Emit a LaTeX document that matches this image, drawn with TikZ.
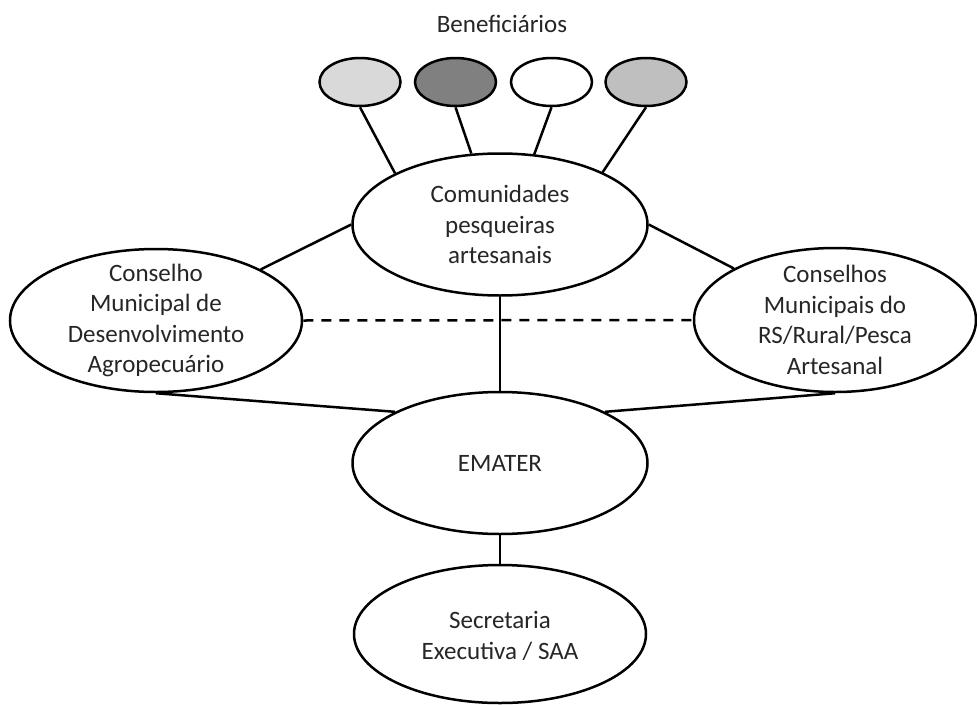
\documentclass[tikz,border=0pt]{standalone}
\usepackage{fontspec}
\setmainfont{Carlito}
\usetikzlibrary{shapes.geometric}
\definecolor{benA}{gray}{0.85}
\definecolor{benB}{gray}{0.5}
\definecolor{benD}{gray}{0.75}
\tikzset{
  ell/.style={draw,ellipse,line width=2.5pt,fill=white,inner sep=0pt},
  big/.style={ell,minimum width=295,minimum height=142},
  txt/.style={font=\fontsize{25}{30.5}\selectfont,align=center,text=black!85},
  conn/.style={line width=2.5pt},
}
\begin{document}
\begin{tikzpicture}[x=1pt,y=-1pt]
\useasboundingbox (0,0) rectangle (977,704);
\node[txt,anchor=base](ben) at (502,32){Beneficiários};
\foreach \n/\x/\c in {1/360/benA,2/455.5/benB,3/551.5/white,4/646/benD}
{
    \node[ell,fill=\c,minimum width=81,minimum height=48](ben\n) at (\x,82){};
}
\node[big,label={[txt]center:{Comunidades\\pesqueiras\\artesanais}}](com) at (500,224.5){};
\node[big,minimum width=292,minimum height=143,
      label={[txt]center:{Conselho\\Municipal de\\Desenvolvimento\\Agropecuário}}](cmda) at (156,320.5){};
\node[big,minimum width=282,minimum height=144,
      label={[txt]center:{Conselhos\\Municipais do\\RS/Rural/Pesca\\Artesanal}}](cmrs) at (835,320){};
\node[big,label={[txt]center:EMATER}](emater) at (500,463){};
\node[big,minimum width=292,minimum height=138,
      label={[txt,yshift=-2pt]center:{Secretaria\\Executiva / SAA}}](saa) at (500,634){};
\foreach \n/\a in {1/154,2/112,3/64,4/27}
{
    \draw[conn](ben\n.south)--(com.\a);
}
\draw[conn](cmda.26)--(com.west);
\draw[conn](cmrs.153)--(com.east);
\draw[conn,dash pattern=on 10pt off 8pt](cmda.east)--(cmrs.west);
\draw[conn](com.south)--(emater.north);
\draw[conn](cmda.south)--(emater.154);
\draw[conn](cmrs.south)--(emater.26);
\draw[conn](emater.south)--(saa.north);
\end{tikzpicture}
\end{document}
